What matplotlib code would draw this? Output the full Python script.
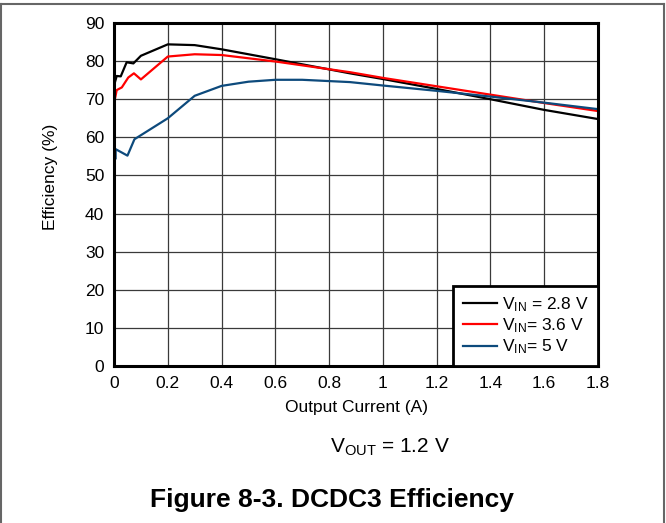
import matplotlib
matplotlib.use('Agg')
import matplotlib.pyplot as plt

plt.rcParams['font.family'] = ['Liberation Sans', 'DejaVu Sans']
plt.rcParams['mathtext.fontset'] = 'custom'
plt.rcParams['mathtext.rm'] = 'Liberation Sans'
plt.rcParams['mathtext.it'] = 'Liberation Sans'

# Efficiency curves, VOUT = 1.2 V
i_28 = [0.004, 0.01, 0.025, 0.047, 0.072, 0.1, 0.2, 0.3, 0.4, 0.6, 0.877,
        1.0, 1.2, 1.4, 1.6, 1.8]
eff_28 = [74.6, 76.1, 76.0, 79.7, 79.4, 81.4, 84.4, 84.2, 83.1, 80.5, 76.8,
          75.3, 72.7, 70.0, 67.2, 64.8]

i_36 = [0.004, 0.01, 0.029, 0.053, 0.074, 0.1, 0.2, 0.3, 0.4, 0.6, 0.877,
        1.0, 1.2, 1.4, 1.6, 1.8]
eff_36 = [70.3, 72.4, 73.1, 75.7, 76.8, 75.2, 81.2, 81.8, 81.6, 79.9, 77.1,
          75.6, 73.4, 71.2, 69.0, 66.9]

i_50 = [0.006, 0.006, 0.05, 0.076, 0.2, 0.3, 0.4, 0.5, 0.6, 0.7, 0.877,
        1.0, 1.2, 1.4, 1.6, 1.8]
eff_50 = [54.5, 56.9, 55.2, 59.5, 65.0, 70.9, 73.5, 74.6, 75.1, 75.1, 74.5,
          73.6, 72.2, 70.7, 69.1, 67.4]

labels = [r'V$_{\mathrm{IN}}$ = 2.8 V', r'V$_{\mathrm{IN}}$= 3.6 V',
          r'V$_{\mathrm{IN}}$= 5 V']
colors = ['black', '#ff0000', '#0d4a7c']

fig = plt.figure(figsize=(6.66, 5.23), dpi=100)
ax = fig.add_axes([0.1712, 0.3002, 0.7267, 0.6558])

for x, y, lab, c in zip([i_28, i_36, i_50], [eff_28, eff_36, eff_50],
                        labels, colors):
    ax.plot(x, y, color=c, lw=1.6, label=lab, zorder=3)

ax.set_xlim(0, 1.8)
ax.set_ylim(0, 90)
ax.set_xticks([0, 0.2, 0.4, 0.6, 0.8, 1.0, 1.2, 1.4, 1.6, 1.8])
ax.set_xticklabels(['0', '0.2', '0.4', '0.6', '0.8', '1', '1.2', '1.4',
                    '1.6', '1.8'])
ax.set_yticks(range(0, 91, 10))
ax.tick_params(length=0, labelsize=12.5, pad=7)
ax.grid(True, color='#3a3a3a', lw=0.9)
for s in ax.spines.values():
    s.set_linewidth(2.2)
    s.set_zorder(4)

ax.set_xlabel('Output Current (A)', fontsize=12.5, labelpad=7)
ax.set_ylabel('Efficiency (%)', fontsize=12.5)
ax.yaxis.set_label_coords(-0.116, 0.551)

leg = ax.legend(loc='lower right', fontsize=12.5, frameon=True, fancybox=False,
                borderaxespad=0, handlelength=1.95, labelspacing=0.15,
                borderpad=0.55, handletextpad=0.3)
leg.get_frame().set_edgecolor('black')
leg.get_frame().set_linewidth(2.0)
leg.get_frame().set_alpha(1)

fig.text(0.585, 0.145, r'V$_{\mathrm{OUT}}$ = 1.2 V', fontsize=15,
         ha='center', va='center')
fig.text(0.498, 0.044, 'Figure 8-3. DCDC3 Efficiency', fontsize=19,
         fontweight='bold', ha='center', va='center')

# outer frame (top, left, right)
for xs, ys in [([0.001, 0.997], [0.992, 0.992]),
               ([0.001, 0.001], [0, 0.992]),
               ([0.997, 0.997], [0, 0.992])]:
    fig.add_artist(plt.Line2D(xs, ys, color='#666666', lw=1.5,
                              transform=fig.transFigure))

fig.savefig('out.png', dpi=100)
